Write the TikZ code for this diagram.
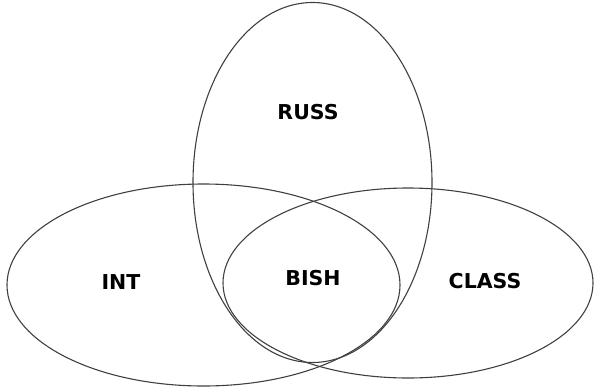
\documentclass[tikz,border=0pt]{standalone}
\usepackage{fontspec}
\setmainfont{DejaVu Sans}
\usetikzlibrary{shapes.geometric}
\begin{document}
\begin{tikzpicture}[x=1pt,y=-1pt,
  setshape/.style={draw=black!75, line width=1.1pt, ellipse, inner sep=0pt, outer sep=0pt},
  lbl/.style={font=\fontsize{20.5}{24}\selectfont\bfseries, inner sep=0pt, text=black}]
\useasboundingbox (0,0) rectangle (595,389);
\node[setshape, minimum width=393pt, minimum height=202pt] (int) at (203.5,285) {};
\node[setshape, minimum width=370pt, minimum height=190pt] (class) at (408,283) {};
\node[setshape, minimum width=239pt, minimum height=360pt] (russ) at (312.5,182.5) {};
\node[lbl] (russl) at (308,112) {RUSS};
\node[lbl] (intl) at (121,282) {INT};
\node[lbl] (bishl) at (313,278) {BISH};
\node[lbl] (classl) at (485,281) {CLASS};
\end{tikzpicture}
\end{document}
